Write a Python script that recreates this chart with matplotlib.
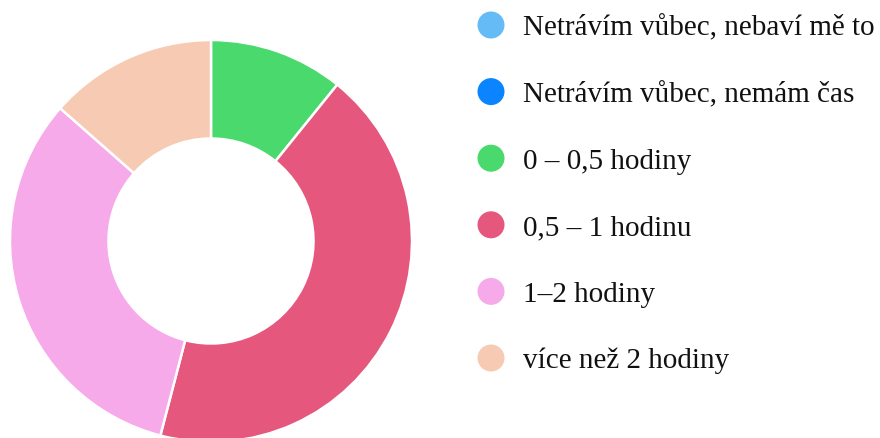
"""Donut chart: time spent per day (survey answers)."""

import matplotlib

matplotlib.use("Agg")
import matplotlib.pyplot as plt

categories = [
    "Netrávím vůbec, nebaví mě to",
    "Netrávím vůbec, nemám čas",
    "0 – 0,5 hodiny",
    "0,5 – 1 hodinu",
    "1–2 hodiny",
    "více než 2 hodiny",
]
counts = [0, 0, 8, 32, 24, 10]
colors = ["#64bbf6", "#0a84ff", "#4ad96c", "#e5577d", "#f7aae9", "#f7cbb3"]

W, H = 880, 439
fig = plt.figure(figsize=(W / 100, H / 100), dpi=100)

# donut: centre (211, 242) px from top, outer radius ~201 px
cx, cy, r = 211, 242, 201
ax = fig.add_axes([(cx - r) / W, (H - cy - r) / H, 2 * r / W, 2 * r / H])
ax.pie(
    counts,
    colors=colors,
    startangle=90,
    counterclock=False,
    radius=1.0,
    wedgeprops=dict(width=0.49, edgecolor="white", linewidth=1.8),
)
ax.set_xlim(-1, 1)
ax.set_ylim(-1, 1)
ax.axis("off")
for p in ax.patches:
    p.set_clip_on(False)

# legend drawn in pixel coordinates
lax = fig.add_axes([0, 0, 1, 1])
lax.set_xlim(0, W)
lax.set_ylim(H, 0)
lax.axis("off")
row_y0, row_step = 26, 66.6
for i, (label, col) in enumerate(zip(categories, colors)):
    y = row_y0 + i * row_step
    lax.scatter([491], [y], s=(27 * 0.72) ** 2, color=col, edgecolors="none")
    lax.text(523, y + 9.5, label, fontsize=21, family="Liberation Serif",
             va="baseline", ha="left", color="#111111")

fig.savefig("out.png", dpi=100)
